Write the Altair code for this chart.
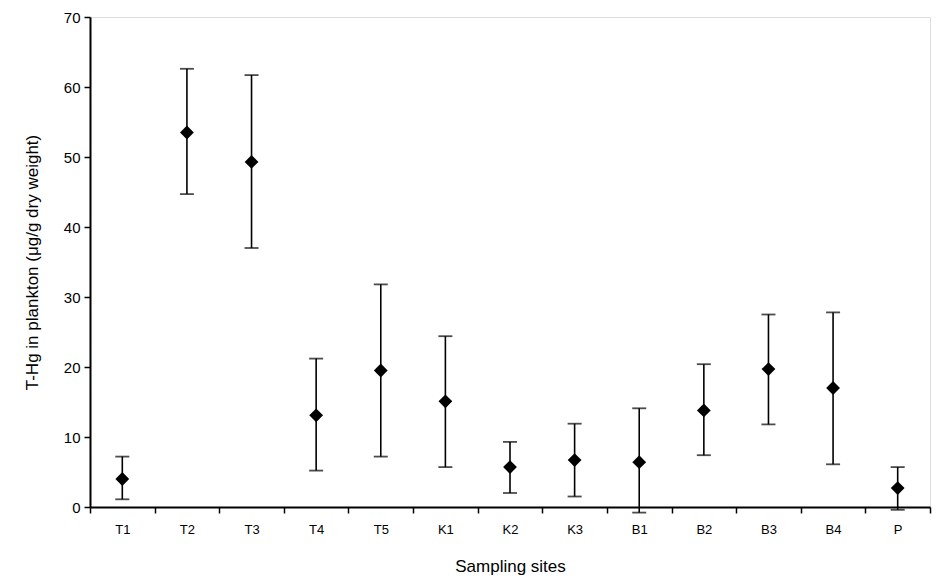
import altair as alt
import pandas as pd

sites = ["T1", "T2", "T3", "T4", "T5", "K1", "K2", "K3", "B1", "B2", "B3", "B4", "P"]
mean = [4.0, 53.5, 49.3, 13.1, 19.5, 15.1, 5.7, 6.7, 6.4, 13.8, 19.7, 17.0, 2.7]
upper = [7.2, 62.6, 61.7, 21.2, 31.8, 24.4, 9.3, 11.9, 14.1, 20.4, 27.5, 27.8, 5.7]
lower = [1.1, 44.7, 37.0, 5.2, 7.2, 5.7, 2.0, 1.5, -0.8, 7.4, 11.8, 6.1, -0.4]

df = pd.DataFrame({"site": sites, "mean": mean, "upper": upper, "lower": lower})

FONT = "Liberation Sans"

x = alt.X("site:N", sort=sites, title="Sampling sites",
          scale=alt.Scale(paddingInner=0, paddingOuter=0),
          axis=alt.Axis(labelAngle=0, tickBand="extent", labelFontSize=13,
                        titleFontSize=17, titleFontWeight="normal", labelPadding=10,
                        titlePadding=22, tickSize=6, domainWidth=2, tickWidth=1.5,
                        domainColor="black", tickColor="black", labelColor="black",
                        titleColor="black", labelFont=FONT, titleFont=FONT))
yscale = alt.Scale(domain=[0, 70], nice=False, zero=False)
yaxis = alt.Axis(values=list(range(0, 71, 10)), grid=False, labelFontSize=15,
                 titleFontSize=17, titleFontWeight="normal", tickSize=6,
                 domainWidth=2, tickWidth=1.5, domainColor="black", tickColor="black",
                 labelColor="black", titleColor="black", labelPadding=4, titlePadding=22,
                 labelFont=FONT, titleFont=FONT)

base = alt.Chart(df)

bars = base.mark_rule(color="black", strokeWidth=1.6).encode(
    x=x,
    y=alt.Y("lower:Q", scale=yscale, axis=yaxis, title="T-Hg in plankton (μg/g dry weight)"),
    y2="upper:Q",
)
cap_hi = base.mark_tick(color="black", orient="horizontal", size=14, thickness=1.8).encode(
    x=x, y=alt.Y("upper:Q", scale=yscale))
cap_lo = base.mark_tick(color="black", orient="horizontal", size=14, thickness=1.8).encode(
    x=x, y=alt.Y("lower:Q", scale=yscale))
pts = base.mark_point(shape="diamond", filled=True, color="black", size=190, opacity=1).encode(
    x=x, y=alt.Y("mean:Q", scale=yscale))

chart = alt.layer(bars, cap_hi, cap_lo, pts).properties(
    width=840, height=490,
    autosize=alt.AutoSizeParams(type="none"),
    padding={"left": 82, "top": 9, "right": 5, "bottom": 72},
).configure_view(stroke=None).configure(background="white")

chart.save("out.html", embed_options={"renderer": "svg", "actions": False})
